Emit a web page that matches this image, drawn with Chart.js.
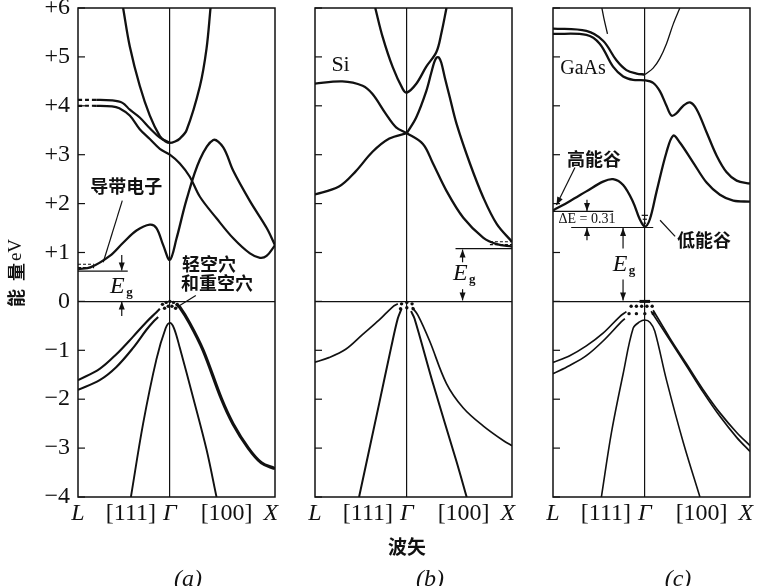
<!DOCTYPE html>
<html>
<head>
<meta charset="utf-8">
<script src="https://cdn.jsdelivr.net/npm/chart.js@4.4.1/dist/chart.umd.min.js"></script>
<style>
  html, body { margin: 0; padding: 0; background: #fff; }
  #wrap { position: relative; width: 763px; height: 586px; }
  canvas { position: absolute; left: 0; top: 0; }
</style>
</head>
<body>
<div id="wrap">
  <canvas id="ge" width="763" height="586"></canvas>
  <canvas id="si" width="763" height="586"></canvas>
  <canvas id="gaas" width="763" height="586"></canvas>
</div>
<script>
// axes: wave vector from L (left) through Γ (0) to X (1), energy in eV
const xTickValues = [-0.873, -0.37, 0, 0.54, 0.96];
const xTickLabels = ['L', '[111]', 'Γ', '[100]', 'X'];
const yTickValues = [-4, -3, -2, -1, 0, 1, 2, 3, 4, 5, 6];
const yTickLabels = ['−4', '−3', '−2', '−1', '0', '+1', '+2', '+3', '+4', '+5', '+6'];

// (a) Ge — [k, E] pairs
const geCbGamma = [[-0.444, 6.0], [-0.381, 5.22], [-0.286, 4.41], [-0.19, 3.8], [-0.095, 3.38], [-0.04, 3.27], [0, 3.24], [0.05, 3.27], [0.095, 3.33], [0.159, 3.5], [0.286, 4.4], [0.349, 5.17], [0.387, 6.0]];
const geCbTop = [[-0.873, 4.12], [-0.7, 4.12], [-0.55, 4.11], [-0.45, 4.06], [-0.38, 3.92], [-0.286, 3.76], [-0.19, 3.54], [-0.095, 3.35], [0, 3.25]];
const geCbMid = [[-0.873, 4.0], [-0.7, 4.0], [-0.55, 3.99], [-0.48, 3.95], [-0.381, 3.8], [-0.286, 3.52], [-0.19, 3.32], [-0.095, 3.12], [0, 3.0], [0.095, 2.82], [0.19, 2.55], [0.286, 2.14], [0.444, 1.7], [0.603, 1.29], [0.762, 0.98], [0.857, 0.89], [0.92, 0.93], [1.0, 1.15]];
const geCbLow = [[-0.873, 0.66], [-0.75, 0.7], [-0.571, 0.93], [-0.444, 1.2], [-0.317, 1.45], [-0.19, 1.57], [-0.127, 1.5], [-0.063, 1.15], [0, 0.85], [0.063, 1.28], [0.159, 2.08], [0.286, 2.9], [0.413, 3.3], [0.508, 3.15], [0.603, 2.67], [0.762, 2.05], [0.921, 1.5], [1.0, 1.15]];
const geVbL1 = [[-0.873, -1.61], [-0.667, -1.38], [-0.508, -1.08], [-0.349, -0.72], [-0.222, -0.42], [-0.127, -0.22], [-0.095, -0.15]];
const geVbL2 = [[-0.873, -1.81], [-0.667, -1.61], [-0.508, -1.34], [-0.349, -0.95], [-0.222, -0.58], [-0.159, -0.42], [-0.111, -0.32]];
const geVbX = [[0.06, -0.05], [0.095, -0.12], [0.19, -0.45], [0.317, -1.0], [0.492, -2.0], [0.6, -2.5], [0.746, -3.0], [0.87, -3.3], [1.0, -3.42]];
const geVbSplit = [[-0.37, -4.0], [-0.254, -2.5], [-0.127, -1.18], [-0.04, -0.55], [0, -0.44], [0.04, -0.55], [0.095, -0.95], [0.222, -1.97], [0.349, -3.03], [0.444, -4.0]];
const geHoles = [[-0.07, -0.06], [-0.035, -0.02], [0, 0.0], [0.035, -0.02], [0.07, -0.06], [-0.05, -0.14], [-0.015, -0.1], [0.02, -0.1], [0.055, -0.14]];
const geGapLevel = [[-0.873, 0.62], [-0.4, 0.62]];
const geElectrons = [[[-0.873, 0.76], [-0.72, 0.76]], [[-0.873, 0.69], [-0.72, 0.69]]];

// (b) Si
const siCbGamma = [[-0.3, 6.0], [-0.23, 5.41], [-0.134, 4.79], [-0.038, 4.34], [0, 4.27], [0.09, 4.45], [0.185, 4.8], [0.281, 5.1], [0.33, 5.5], [0.377, 6.0]];
const siCbPeak = [[0, 3.44], [0.089, 3.76], [0.185, 4.3], [0.233, 4.68], [0.262, 4.9], [0.285, 4.99], [0.305, 4.99], [0.328, 4.88], [0.361, 4.58], [0.409, 4.17], [0.473, 3.63], [0.6, 2.82], [0.728, 2.12], [0.856, 1.58], [1.0, 1.22]];
const siCbUpper = [[-0.885, 4.45], [-0.613, 4.5], [-0.42, 4.41], [-0.326, 4.24], [-0.198, 3.83], [-0.102, 3.56], [0, 3.44], [0.153, 3.22], [0.249, 2.82], [0.377, 2.26], [0.537, 1.71], [0.728, 1.3], [0.856, 1.17], [1.0, 1.12]];
const siCbLower = [[-0.885, 2.18], [-0.645, 2.35], [-0.486, 2.66], [-0.326, 3.06], [-0.166, 3.33], [0, 3.44]];
const siVbL = [[-0.885, -1.25], [-0.741, -1.15], [-0.581, -0.98], [-0.422, -0.68], [-0.262, -0.38], [-0.134, -0.11], [-0.086, -0.05]];
const siVbLSteep = [[-0.454, -4.0], [-0.262, -2.08], [-0.15, -0.95], [-0.086, -0.35], [-0.05, -0.15]];
const siVbX = [[0.05, -0.12], [0.105, -0.28], [0.217, -0.81], [0.377, -1.68], [0.537, -2.18], [0.728, -2.55], [0.92, -2.85], [1.0, -2.95]];
const siVbXSteep = [[0.04, -0.2], [0.073, -0.35], [0.249, -1.68], [0.473, -3.28], [0.569, -4.0]];
const siHoles = [[-0.05, -0.05], [0, -0.02], [0.05, -0.05], [-0.06, -0.15], [0, -0.13], [0.06, -0.15]];
const siGapLevel = [[0.463, 1.08], [1.0, 1.08]];
const siElectrons = [[[0.79, 1.22], [1.0, 1.22]], [[0.79, 1.16], [1.0, 1.16]]];

// (c) GaAs
const gaCbTop = [[-0.873, 5.58], [-0.556, 5.53], [-0.397, 5.33], [-0.27, 4.93], [-0.175, 4.73], [-0.079, 4.66], [0, 4.64]];
const gaCbMid = [[-0.873, 5.47], [-0.556, 5.45], [-0.429, 5.27], [-0.302, 4.8], [-0.206, 4.6], [-0.111, 4.53], [0, 4.52], [0.079, 4.47], [0.143, 4.3], [0.206, 4.0], [0.254, 3.8], [0.302, 3.85], [0.365, 4.0], [0.429, 4.07], [0.492, 3.93], [0.587, 3.46], [0.683, 2.98], [0.778, 2.64], [0.873, 2.47], [1.0, 2.41]];
const gaCbGammaL = [[-0.413, 6.05], [-0.39, 5.8], [-0.355, 5.47]];
const gaCbGammaR = [[0, 4.64], [0.079, 4.77], [0.143, 4.97], [0.206, 5.27], [0.27, 5.67], [0.333, 6.0]];
const gaCbLow = [[-0.873, 1.86], [-0.714, 2.05], [-0.556, 2.25], [-0.397, 2.45], [-0.302, 2.5], [-0.206, 2.38], [-0.111, 2.03], [-0.048, 1.68], [0, 1.53], [0.048, 1.68], [0.111, 2.24], [0.206, 3.05], [0.27, 3.39], [0.333, 3.25], [0.46, 2.84], [0.587, 2.43], [0.714, 2.18], [0.841, 2.06], [1.0, 2.04]];
const gaVbL1 = [[-0.873, -1.25], [-0.714, -1.11], [-0.556, -0.91], [-0.397, -0.65], [-0.238, -0.31], [-0.175, -0.21]];
const gaVbL2 = [[-0.873, -1.48], [-0.714, -1.31], [-0.556, -1.11], [-0.397, -0.81], [-0.238, -0.45], [-0.19, -0.35]];
const gaVbSplit = [[-0.413, -4.0], [-0.317, -2.68], [-0.206, -1.48], [-0.111, -0.55], [-0.05, -0.42], [0, -0.38], [0.05, -0.43], [0.095, -0.61], [0.206, -1.61], [0.365, -2.88], [0.524, -4.0]];
const gaVbX1 = [[0.079, -0.18], [0.238, -0.75], [0.397, -1.28], [0.556, -1.81], [0.714, -2.28], [0.873, -2.68], [1.0, -2.95]];
const gaVbX2 = [[0.06, -0.2], [0.238, -0.79], [0.397, -1.32], [0.556, -1.86], [0.714, -2.35], [0.873, -2.78], [1.0, -3.07]];
const gaHoles = [[-0.13, -0.1], [-0.08, -0.1], [-0.03, -0.1], [0.02, -0.1], [0.07, -0.1], [-0.15, -0.25], [-0.08, -0.25], [0, -0.25], [0.08, -0.25]];
const gaLevels = [[[-0.873, 1.84], [-0.3, 1.84]], [[-0.7, 1.51], [0.08, 1.51]]];

const INK = '#111';
const SERIF = '"Liberation Serif", "DejaVu Serif", serif';
const CJK = '"Noto Sans CJK SC", sans-serif';
const extras = {};

function band(pts, w, dashFirst) {
  return {
    data: pts.map(p => ({x: p[0], y: p[1]})),
    borderColor: INK,
    borderWidth: w || 2.3,
    pointRadius: 0,
    fill: false,
    tension: 0.35,
    segment: dashFirst ? {borderDash: c => c.p0DataIndex === 0 ? [4, 3] : undefined} : {}
  };
}

function straight(pts, w, dash) {
  return {
    data: pts.map(p => ({x: p[0], y: p[1]})),
    borderColor: INK,
    borderWidth: w || 1.3,
    borderDash: dash || [],
    pointRadius: 0,
    tension: 0,
    fill: false
  };
}

function dots(pts) {
  return {
    data: pts.map(p => ({x: p[0], y: p[1]})),
    showLine: false,
    pointRadius: 1.7,
    pointBackgroundColor: INK,
    pointBorderWidth: 0
  };
}

function arrow(ctx, x0, y0, x1, y1) {
  ctx.beginPath(); ctx.moveTo(x0, y0); ctx.lineTo(x1, y1); ctx.stroke();
  const a = Math.atan2(y1 - y0, x1 - x0);
  ctx.beginPath();
  ctx.moveTo(x1, y1);
  ctx.lineTo(x1 - 8 * Math.cos(a) + 3 * Math.sin(a), y1 - 8 * Math.sin(a) - 3 * Math.cos(a));
  ctx.lineTo(x1 - 8 * Math.cos(a) - 3 * Math.sin(a), y1 - 8 * Math.sin(a) + 3 * Math.cos(a));
  ctx.closePath(); ctx.fill();
}

function egText(ctx, x, y) {
  ctx.textAlign = 'center'; ctx.textBaseline = 'middle';
  ctx.font = 'italic 24px ' + SERIF;
  ctx.fillText('E', x - 3, y);
  ctx.font = 'bold 13px ' + SERIF;
  ctx.fillText('g', x + 9, y + 6);
}

function line(ctx, x0, y0, x1, y1) {
  ctx.beginPath(); ctx.moveTo(x0, y0); ctx.lineTo(x1, y1); ctx.stroke();
}

const framePlugin = {
  id: 'frame',
  afterDatasetsDraw(chart) {
    const {ctx, chartArea: a} = chart;
    const y = chart.scales.y;
    ctx.save();
    ctx.strokeStyle = INK; ctx.lineWidth = 1.5;
    ctx.strokeRect(a.left, a.top, a.right - a.left, a.bottom - a.top);
    ctx.lineWidth = 1.2;
    yTickValues.forEach(v => {
      const p = y.getPixelForValue(v);
      line(ctx, a.left, p, a.left + 7, p);
    });
    const X = v => chart.scales.x.getPixelForValue(v);
    const Y = v => y.getPixelForValue(v);
    ctx.fillStyle = INK; ctx.strokeStyle = INK; ctx.lineWidth = 1.2;
    const extra = extras[chart.canvas.id];
    if (extra) extra(ctx, X, Y);
    ctx.restore();
  }
};

function makePanel(id, datasets, pad, showY, extra) {
  extras[id] = extra;
  return new Chart(document.getElementById(id), {
    type: 'line',
    data: {datasets: datasets},
    plugins: [framePlugin],
    options: {
      responsive: false,
      animation: false,
      devicePixelRatio: 1,
      layout: {padding: pad},
      plugins: {legend: {display: false}, tooltip: {enabled: false}},
      scales: {
        x: {
          type: 'linear', min: -0.873, max: 1,
          afterBuildTicks: s => { s.ticks = xTickValues.map(v => ({value: v})); },
          afterFit: s => { s.height = 40; },
          grid: {drawTicks: false, lineWidth: 1.2, color: c => (c.tick && c.tick.value === 0) ? INK : 'rgba(0,0,0,0)'},
          border: {display: false},
          ticks: {
            color: INK, padding: 2, maxRotation: 0, autoSkip: false,
            callback: (v, i) => xTickLabels[i],
            font: c => ({family: SERIF, size: 24, style: [0, 2, 4].includes(c.index) ? 'italic' : 'normal'})
          }
        },
        y: {
          type: 'linear', min: -4, max: 6,
          afterBuildTicks: s => { s.ticks = yTickValues.map(v => ({value: v})); },
          afterFit: s => { s.width = showY ? 78 : 0; s.paddingTop = 0; s.paddingBottom = 0; },
          grid: {drawTicks: false, lineWidth: 1.2, color: c => (c.tick && c.tick.value === 0) ? INK : 'rgba(0,0,0,0)'},
          border: {display: false},
          ticks: {
            display: showY, color: INK, padding: 8, autoSkip: false,
            callback: (v, i) => yTickLabels[i],
            font: {family: SERIF, size: 24}
          }
        }
      }
    }
  });
}

// (a) Ge
makePanel('ge', [
  band(geCbGamma), band(geCbTop, 2.2, true), band(geCbMid, 2.2, true), band(geCbLow),
  band(geVbL1, 2.1), band(geVbL2, 2.1), band(geVbX, 3.2), band(geVbSplit, 1.9),
  straight(geGapLevel), straight(geElectrons[0], 1.2, [3, 2]), straight(geElectrons[1], 1.2, [3, 2]),
  dots(geHoles)
], {left: 0, right: 488, top: 8, bottom: 49}, true, (ctx, X, Y) => {
  arrow(ctx, X(-0.457), Y(0.95), X(-0.457), Y(0.63));
  arrow(ctx, X(-0.457), Y(-0.3), X(-0.457), Y(0.0));
  egText(ctx, X(-0.47), Y(0.3));
  ctx.font = 'bold 18px ' + CJK; ctx.textAlign = 'center'; ctx.textBaseline = 'middle';
  ctx.fillText('导带电子', X(-0.414), Y(2.36));
  ctx.fillText('轻空穴', X(0.373), Y(0.77));
  ctx.fillText('和重空穴', X(0.449), Y(0.38));
  line(ctx, X(-0.452), Y(2.06), X(-0.633), Y(0.8));
  line(ctx, X(0.067), Y(-0.12), X(0.247), Y(0.12));
  // y-axis title, read bottom to top
  ctx.save();
  ctx.translate(16, 0); ctx.rotate(-Math.PI / 2);
  ctx.textAlign = 'center'; ctx.textBaseline = 'middle';
  ctx.font = 'bold 18px ' + CJK;
  ctx.fillText('能', -298, 0);
  ctx.fillText('量', -272, 0);
  ctx.font = '19px ' + SERIF;
  ctx.fillText('eV', -250, 0);
  ctx.restore();
  ctx.font = 'italic 24px ' + SERIF; ctx.textAlign = 'center'; ctx.textBaseline = 'top';
  ctx.fillText('(a)', 188, 568);
});

// (b) Si
makePanel('si', [
  band(siCbGamma), band(siCbPeak), band(siCbUpper), band(siCbLower),
  band(siVbL, 1.7), band(siVbLSteep, 2), band(siVbX, 1.7), band(siVbXSteep, 2),
  straight(siGapLevel), straight(siElectrons[0], 1.2, [3, 2]), straight(siElectrons[1], 1.2, [3, 2]),
  dots(siHoles)
], {left: 315, right: 251, top: 8, bottom: 49}, false, (ctx, X, Y) => {
  arrow(ctx, X(0.53), Y(0.8), X(0.53), Y(1.06));
  arrow(ctx, X(0.53), Y(0.25), X(0.53), Y(0.02));
  egText(ctx, X(0.537), Y(0.56));
  ctx.font = '22px ' + SERIF; ctx.textAlign = 'center'; ctx.textBaseline = 'middle';
  ctx.fillText('Si', X(-0.63), Y(4.83));
  ctx.font = 'bold 19px ' + CJK; ctx.textBaseline = 'middle';
  ctx.fillText('波矢', 407, 547);
  ctx.font = 'italic 24px ' + SERIF; ctx.textBaseline = 'top';
  ctx.fillText('(b)', 430, 568);
});

// (c) GaAs
makePanel('gaas', [
  band(gaCbTop), band(gaCbMid), band(gaCbGammaL, 1.3), band(gaCbGammaR, 1.3), band(gaCbLow),
  band(gaVbL1, 1.7), band(gaVbL2, 1.7), band(gaVbSplit, 1.6), band(gaVbX1, 1.7), band(gaVbX2, 1.7),
  straight(gaLevels[0], 1.1), straight(gaLevels[1], 1.1),
  dots(gaHoles)
], {left: 553, right: 13, top: 8, bottom: 49}, false, (ctx, X, Y) => {
  ctx.font = '20px ' + SERIF; ctx.textAlign = 'center'; ctx.textBaseline = 'middle';
  ctx.fillText('GaAs', X(-0.588), Y(4.76));
  ctx.font = '14px ' + SERIF;
  ctx.fillText('ΔE = 0.31', X(-0.55), Y(1.67));
  arrow(ctx, X(-0.55), Y(2.08), X(-0.55), Y(1.85));
  arrow(ctx, X(-0.55), Y(1.25), X(-0.55), Y(1.5));
  arrow(ctx, X(-0.207), Y(1.08), X(-0.207), Y(1.5));
  arrow(ctx, X(-0.207), Y(0.45), X(-0.207), Y(0.02));
  egText(ctx, X(-0.207), Y(0.76));
  ctx.font = 'bold 18px ' + CJK; ctx.textAlign = 'center'; ctx.textBaseline = 'middle';
  ctx.fillText('高能谷', X(-0.483), Y(2.9));
  ctx.fillText('低能谷', X(0.563), Y(1.25));
  arrow(ctx, X(-0.664), Y(2.74), X(-0.84), Y(1.97));
  line(ctx, X(0.145), Y(1.66), X(0.288), Y(1.33));
  // electrons in the Γ valley
  line(ctx, X(-0.03), Y(1.76), X(0.03), Y(1.76));
  line(ctx, X(-0.02), Y(1.68), X(0.02), Y(1.68));
  line(ctx, X(-0.012), Y(1.6), X(0.012), Y(1.6));
  ctx.lineWidth = 3;
  line(ctx, X(-0.05), Y(0), X(0.05), Y(0));
  ctx.font = 'italic 24px ' + SERIF; ctx.textBaseline = 'top';
  ctx.fillText('(c)', 678, 568);
});
</script>
</body>
</html>
